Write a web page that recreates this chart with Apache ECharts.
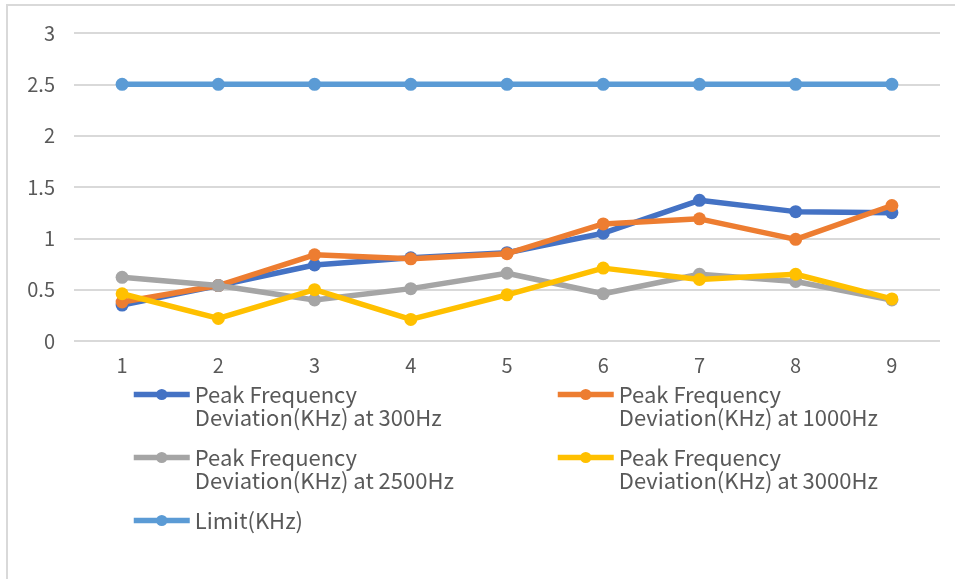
<!DOCTYPE html>
<html><head><meta charset="utf-8">
<script src="https://cdn.jsdelivr.net/npm/echarts@6/dist/echarts.min.js"></script>
<style>html,body{margin:0;padding:0;background:#fff}#c{width:955px;height:579px}</style>
</head><body><div id="c"></div>
<script>
var categories = ['1','2','3','4','5','6','7','8','9'];
var seriesNames = ['Peak Frequency Deviation(KHz) at 300Hz','Peak Frequency Deviation(KHz) at 1000Hz','Peak Frequency Deviation(KHz) at 2500Hz','Peak Frequency Deviation(KHz) at 3000Hz','Limit(KHz)'];
var dev300 = [0.35, 0.54, 0.74, 0.81, 0.86, 1.05, 1.37, 1.26, 1.25];
var dev1000 = [0.38, 0.54, 0.84, 0.80, 0.85, 1.14, 1.19, 0.99, 1.32];
var dev2500 = [0.62, 0.54, 0.40, 0.51, 0.66, 0.46, 0.65, 0.58, 0.40];
var dev3000 = [0.46, 0.22, 0.50, 0.21, 0.45, 0.71, 0.60, 0.65, 0.41];
var limit = [2.5, 2.5, 2.5, 2.5, 2.5, 2.5, 2.5, 2.5, 2.5];
var colors = ['#4472C4','#ED7D31','#A5A5A5','#FFC000','#5B9BD5'];
var dataSets = [dev300, dev1000, dev2500, dev3000, limit];

var FONT = 'Noto Sans CJK SC';
function mkSeries(i){
  return {
    name: seriesNames[i], type: 'line', data: dataSets[i],
    symbol: 'circle', symbolSize: 13, z: 2 + i,
    lineStyle: {color: colors[i], width: 5.5},
    itemStyle: {color: colors[i]},
    emphasis: {disabled: true}, animation: false
  };
}
function mkLegend(i, left, top, twoLines){
  return {
    data: [seriesNames[i]], left: left, top: top, padding: 0,
    itemWidth: 56, itemHeight: 14, itemGap: 0,
    lineStyle: {width: 5.5},
    formatter: function(n){
      return twoLines ? '\n' + n.replace('Peak Frequency ', 'Peak Frequency\n') : n;
    },
    textStyle: {fontFamily: FONT, fontSize: 22, color: '#595959', lineHeight: 23},
    selectedMode: false
  };
}
var chart = echarts.init(document.getElementById('c'));
chart.setOption({
  animation: false,
  graphic: [{type: 'rect', shape: {x: 7, y: 5, width: 1000, height: 700},
    style: {fill: 'none', stroke: '#D9D9D9', lineWidth: 2}, silent: true}],
  grid: {left: 74, right: 15, top: 33, bottom: 238, containLabel: false},
  xAxis: {
    type: 'category', data: categories, boundaryGap: true,
    axisLine: {show: false}, axisTick: {show: false},
    axisLabel: {fontFamily: FONT, fontSize: 20, color: '#595959', margin: 14}
  },
  yAxis: {
    type: 'value', min: 0, max: 3, interval: 0.5,
    axisLine: {show: false}, axisTick: {show: false},
    splitLine: {lineStyle: {color: '#D9D9D9', width: 2}},
    axisLabel: {fontFamily: FONT, fontSize: 20, color: '#595959', margin: 19}
  },
  legend: [
    mkLegend(0, 131, 360, true),
    mkLegend(1, 555, 360, true),
    mkLegend(2, 131, 423, true),
    mkLegend(3, 555, 423, true),
    mkLegend(4, 131, 509, false)
  ],
  series: [0,1,2,3,4].map(mkSeries)
});
</script></body></html>
